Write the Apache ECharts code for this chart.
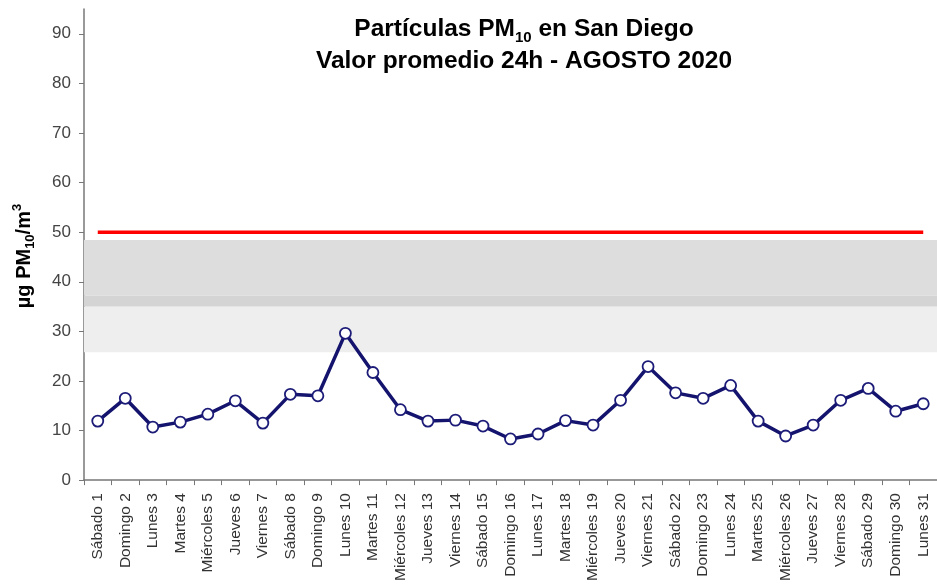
<!DOCTYPE html>
<html><head><meta charset="utf-8">
<script src="https://cdn.jsdelivr.net/npm/echarts@6/dist/echarts.min.js"></script>
<style>html,body{margin:0;padding:0;background:#fff}#c{width:937px;height:584px}</style>
</head><body><div id="c"></div>
<script>
var categories = ["Sábado 1","Domingo 2","Lunes 3","Martes 4","Miércoles 5","Jueves 6","Viernes 7","Sábado 8","Domingo 9","Lunes 10","Martes 11","Miércoles 12","Jueves 13","Viernes 14","Sábado 15","Domingo 16","Lunes 17","Martes 18","Miércoles 19","Jueves 20","Viernes 21","Sábado 22","Domingo 23","Lunes 24","Martes 25","Miércoles 26","Jueves 27","Viernes 28","Sábado 29","Domingo 30","Lunes 31"];
var pm10 = [11.9,16.5,10.7,11.7,13.3,16.0,11.5,17.3,17.0,29.6,21.7,14.2,11.9,12.1,10.9,8.3,9.3,12.0,11.1,16.1,22.9,17.6,16.5,19.1,11.9,8.9,11.1,16.1,18.5,13.9,15.4];
var limitValue = 50;
var limit = categories.map(function(){return limitValue;});
var bandLow = [25.8, 35.0];
var bandOverlap = [35.0, 37.2];
var bandHigh = [37.2, 48.4];
var yTicks = {min:0, max:95, interval:10};

var chart = echarts.init(document.getElementById('c'));
var font = 'Liberation Sans, Arial, sans-serif';
chart.setOption({
  animation:false,
  title:{
    left:519, top:8, textAlign:'center',
    text:'{a|Partículas PM}{s|10}{a| en San Diego}\n{a|Valor promedio 24h - AGOSTO 2020}',
    textStyle:{
      rich:{
        a:{fontFamily:font,fontWeight:'bold',fontSize:24.5,color:'#000',lineHeight:32},
        s:{fontFamily:font,fontWeight:'bold',fontSize:15,color:'#000',lineHeight:26,verticalAlign:'bottom'}
      }
    }
  },
  graphic:[{
    type:'text', x:24, y:256, rotation:Math.PI/2, silent:true,
    style:{
      text:'{a|µg PM}{s|10}{a|/m}{p|3}',
      align:'center', verticalAlign:'middle',
      rich:{
        a:{fontFamily:font,fontWeight:'bold',fontSize:20,fill:'#000',lineHeight:26},
        s:{fontFamily:font,fontWeight:'bold',fontSize:13,fill:'#000',lineHeight:21,verticalAlign:'bottom'},
        p:{fontFamily:font,fontWeight:'bold',fontSize:13,fill:'#000',lineHeight:21,verticalAlign:'top'}
      }
    }
  }],
  grid:{left:84,right:-4,top:9,bottom:103,containLabel:false},
  xAxis:{
    type:'category', data:categories, boundaryGap:true,
    axisLine:{lineStyle:{color:'#777',width:1.5}},
    axisTick:{show:true,alignWithLabel:false,length:5,lineStyle:{color:'#777'}},
    axisLabel:{rotate:90,interval:0,fontFamily:font,fontSize:15.5,color:'#333',margin:13}
  },
  yAxis:{
    type:'value', min:yTicks.min, max:yTicks.max, interval:yTicks.interval,
    splitLine:{show:false},
    axisLine:{show:true,lineStyle:{color:'#777',width:1.5}},
    axisTick:{show:true,length:5,lineStyle:{color:'#777'}},
    axisLabel:{fontFamily:font,fontSize:17,color:'#444',margin:13,showMaxLabel:false}
  },
  series:[
    {
      type:'line', data:limit, symbol:'none', silent:true, z:3,
      lineStyle:{color:'#ff0000',width:3.5},
      markArea:{silent:true,data:[
        [{yAxis:bandLow[0],itemStyle:{color:'#eeeeee'}},{yAxis:bandLow[1]}],
        [{yAxis:bandOverlap[0],itemStyle:{color:'#d4d4d4'}},{yAxis:bandOverlap[1]}],
        [{yAxis:bandHigh[0],itemStyle:{color:'#dddddd'}},{yAxis:bandHigh[1]}]
      ]}
    },
    {
      type:'line', data:pm10, z:5,
      symbol:'circle', symbolSize:11,
      lineStyle:{color:'#14146e',width:3.5},
      itemStyle:{color:'#ffffff',borderColor:'#1c1c78',borderWidth:1.8}
    }
  ]
});
</script>
</body></html>
